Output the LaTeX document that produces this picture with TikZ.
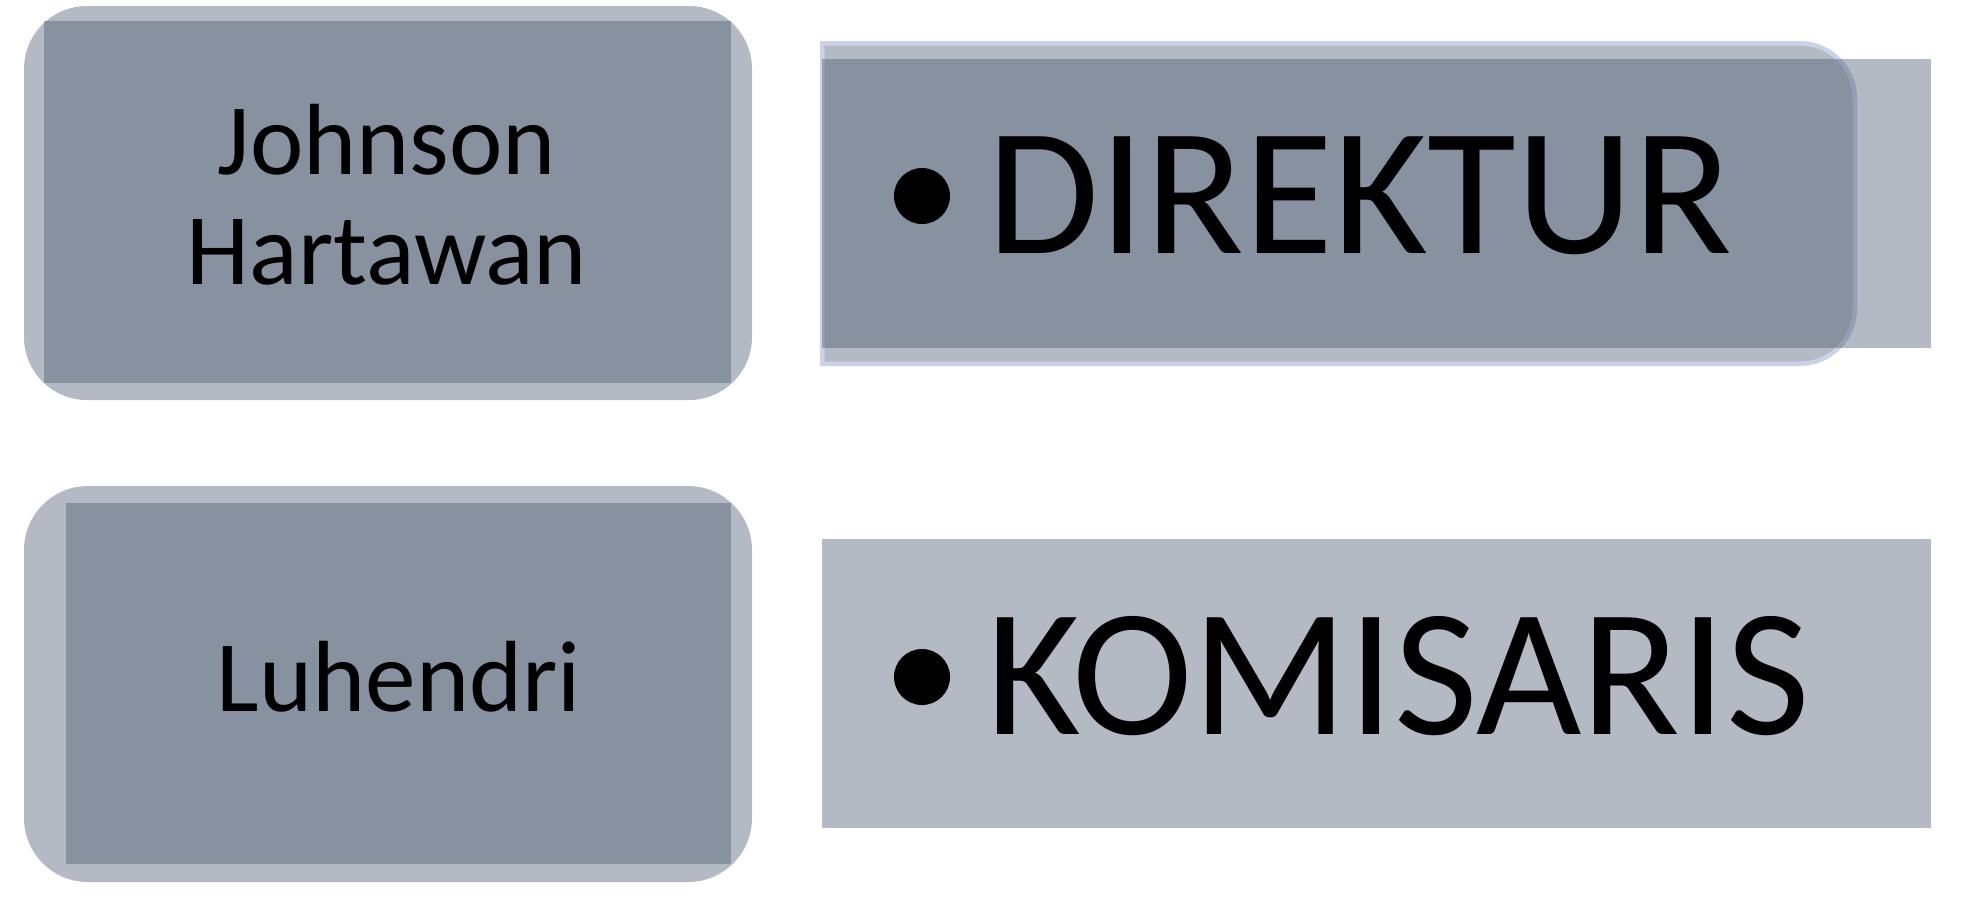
\documentclass[tikz,border=0pt]{standalone}
\usepackage{fontspec}
\setmainfont{Carlito}
\definecolor{lightc}{RGB}{180,186,195}
\definecolor{overc}{RGB}{72,87,109}
\definecolor{lavc}{RGB}{203,209,230}
\tikzset{
  lightshape/.style={fill=lightc, draw=none},
  overlay/.style={fill=overc, fill opacity=0.41, draw=none},
  nametext/.style={inner sep=0pt, anchor=base, font=\fontsize{50.6}{55}\selectfont},
  roletext/.style={inner sep=0pt, anchor=base, font=\fontsize{91}{100}\selectfont},
  bulletdot/.style={circle, fill=black, inner sep=0pt, minimum size=28pt}
}
\begin{document}
\begin{tikzpicture}[x=0.5pt,y=-0.5pt]
\useasboundingbox (0,0) rectangle (1962,896);
% top-left box
\path[lightshape, rounded corners=31.5pt] (24,6) rectangle (752,400);
\path[overlay] (44,21) rectangle (731,383);
% bottom-left box
\path[lightshape, rounded corners=32pt] (24,486) rectangle (752,882);
\path[overlay] (66,503) rectangle (731,864);
% top-right box
\path[fill=lightc, draw=lavc, line width=2.25pt]
  (822.25,43.25) -- (1300,43.25) [rounded corners=27.5pt] -- (1854.75,43.25)
  -- (1854.75,363.75) -- (1300,363.75) [sharp corners] -- (822.25,363.75) -- cycle;
\path[overlay] (822,59) rectangle (1931,348);
% bottom-right box
\path[lightshape] (822,539) rectangle (1931,828);
% texts
\node[nametext] (johnson) at (387,174) {Johnson};
\node[nametext] (hartawan) at (387,284) {Hartawan};
\node[nametext] (luhendri) at (399,711) {Luhendri};
\node[bulletdot] (b1) at (922,196) {};
\node[roletext] (direktur) at (1360,253) {DIREKTUR};
\node[bulletdot] (b2) at (922,677) {};
\node[roletext] (komisaris) at (1398,734) {KOMISARIS};
\end{tikzpicture}
\end{document}
